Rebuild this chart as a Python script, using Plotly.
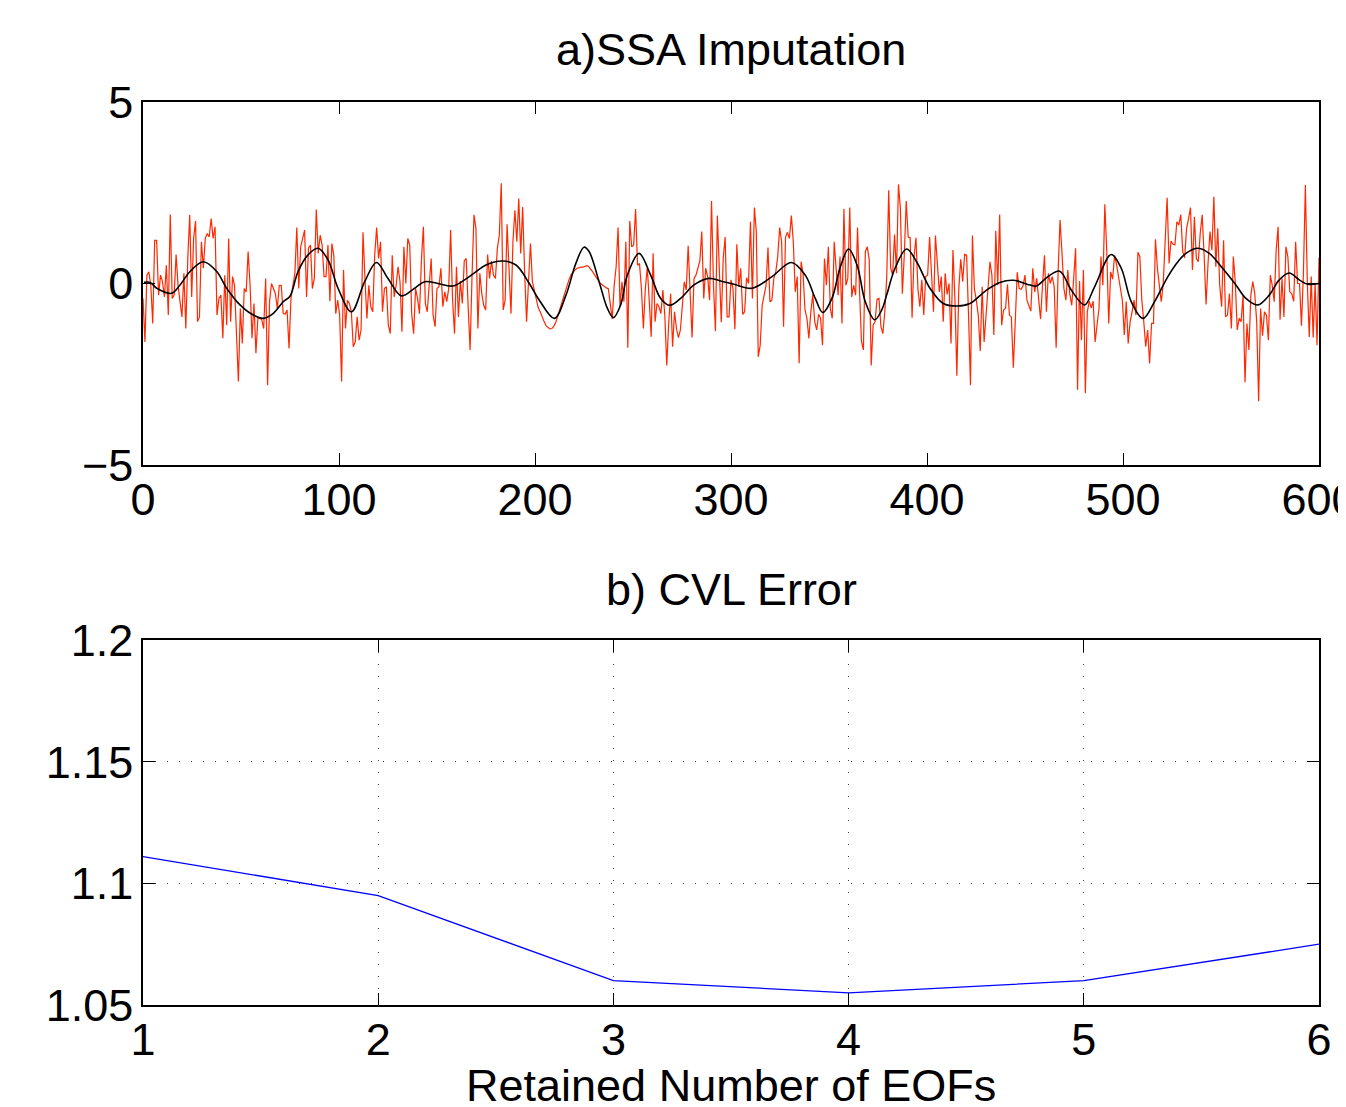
import numpy as np
import plotly.graph_objects as go

# ---------------- data: panel a) observed (red) series, read off the picture ----------------
red_seg1 = [-0.41,-1.61,0.23,0.32,-0.05,-1.10,1.19,1.19,-0.32,0.23, 0.05,-0.37,0.50,-0.87,1.90,-0.41,-0.32,0.80,-0.05,-0.50,
            -0.92,0.28,-1.24,0.69,1.89,-0.37,1.25,1.72,-1.05,-0.92, 1.15,0.42,1.25,1.38,1.28,1.79,1.24,1.56,-0.87,-0.41,
            -0.32,-1.51,0.23,-1.15,1.24,-1.05,0.19,-0.05,-1.42,-2.70, -0.69,-1.65,-0.14,-0.23,0.88,-0.05,-1.51,-0.55,-1.92,-0.96,
            -0.96,-1.00,-1.24,0.14,-2.80,-0.50,0.00,-0.14,-0.28,-0.69, -0.05,-0.05,-0.83,-0.85,-0.73,-1.79]
red_seg2 = [-0.41,-0.05,0.28,1.54,-0.14,1.01,1.28,1.47,-0.37,0.97, 1.06,-0.14,0.14,2.04,0.83,1.33,1.06,0.19,0.19,1.06,
            -0.49,1.10,0.78,-0.83,-0.46,-0.87,-2.70,0.37,-1.24,-0.46, -0.55,-0.78,-1.74,-1.61,-0.92,-1.56,-1.28,1.41,0.14,-0.96,
            -0.05,-0.64,-0.78,0.78,1.54,0.69,1.15,-0.78,-0.14,-0.09, -1.15,-1.38,0.78,-0.37,-0.05,0.46,0.05,-1.33,1.01,0.00,
            1.24,1.06,-0.83,-1.38,-0.14,-0.41,-0.83,0.65,1.56,-0.55, -0.78,-0.05,0.69,-0.87,-1.19]
red_seg3 = [-0.14,-0.09,0.42,-0.64,-0.23,-0.50,-0.14,1.47,-0.46,-1.38, 0.46,-0.92,0.07,-0.55,0.62,0.69,-0.64,-1.83,0.23,1.89,
            1.52,-1.24,0.28,-0.28,-0.60,-0.73,0.80,0.14,0.62,0.23, 0.14,0.97,1.33,2.76,-0.73,-0.46,1.63,0.42,-0.83,1.15,
            2.02,1.15,2.34,0.83,2.11,0.32,-1.05,0.05,1.10,0.05]
red_gap = [-0.18,-0.43,-0.67,-0.78,-0.94,-1.05,-1.16,-1.22,-1.25,-1.24, -1.18,-1.07,-0.92,-0.73,-0.55,-0.37,-0.16,0.00,0.14,0.25,
           0.32,0.38,0.42,0.44,0.45,0.45,0.47,0.49,0.46,0.40, 0.32,0.23,0.14,0.07,0.00,-0.04,-0.09,-0.12,-0.14]
red_seg4 = [-0.60,-0.98,-0.05,0.46,1.54,-0.64,0.05,-0.50,1.15,-1.77, 1.72,1.01,1.06,2.05,0.50,0.55,-0.14,-1.24,-0.14,0.44,
            -0.46,-1.47,0.83,-1.05,-0.55,-0.64,-0.83,-0.18,-0.87,-2.26, -1.10,-0.28,-1.74,-0.78,-1.24,-1.49,-1.28,-0.60,0.05,-0.18,
            1.04,-0.23,-1.49,0.14,0.23,0.42,0.62,1.43,-0.41,0.42, 0.19,-0.46,2.27,-0.05,-1.31,1.87,0.46,-1.07,0.69,1.28, -0.92]
red_seg5 = [-0.92,0.10,-0.14,-1.26,1.08,-0.09,0.42,-0.85,-0.78,0.16, 0.00,1.70,-0.41,2.09,1.43,-2.02,-1.70,-0.60,-0.28,-0.05,
            0.99,-0.50,-0.46,0.14,0.32,0.74,1.54,1.15,-1.19,1.28, 1.41,1.24,1.87,1.15,-0.23,0.19,-2.20,0.60,0.28,-0.73,
            -0.96,-1.51,-0.78,-0.30,-1.05,-1.28,-0.85,-0.96,-1.70,0.69, -0.05,1.01,-0.69,-0.96,1.15,0.37,-0.32,0.74,-1.10,2.05,
            -0.05,0.14,2.09,-0.37,-0.05,-0.32,1.54,-0.18,-1.59,-1.83, 0.88,1.01,0.65,-2.26,-1.15,-1.05,-0.43]
red_seg6 = [-0.41,-1.19,-1.38,-0.78,0.19,2.57,0.42,0.23,1.35,0.28, 2.73,2.07,-0.28,0.78,2.27,1.28,1.26,-0.94,0.74,1.26,
            -0.14,-0.64,0.10,-0.87,0.19,0.23,1.28,0.23,-0.78,1.32, 0.60,-0.23,0.19,-1.05,0.28,-0.30,0.00,-1.65,0.92,-0.41,
            -2.54,-0.14,0.67,0.05,0.80,0.78,-0.87,-2.80,1.32,-0.14, -0.46,-0.87,-1.86,-0.09,-1.61,-0.87,-0.32,0.60,0.23,-1.42,
            1.45,-0.05,1.90,-1.15,-0.73,-0.69,-0.02,-0.87,-0.92,-2.32, -1.05,0.31,-0.14,-0.16,-0.06,0.23,-0.46]
red_seg7 = [-0.60,-0.76,0.42,-0.23,0.14,-0.37,-0.98,-0.05,0.78,-0.78, 0.28,0.00,0.19,-0.09,-1.77,0.32,1.75,0.83,-0.14,-0.46,
            0.37,-0.28,-0.60,0.14,0.97,-2.93,0.07,-1.56,0.37,-3.02, -0.78,-0.49,-0.67,-0.49,-1.61,-1.15,-0.69,0.74,-0.05,2.18,
            0.88,-1.10,0.32,0.12,0.78,0.53,0.23,-0.05,-0.46,-1.42, -0.50,-1.65,-1.05,-0.78,-0.46,-0.87,0.86,0.74,-0.46,-1.05,
            -1.74,-1.28,-2.20,-1.10,-1.10,1.22,0.42,-0.05,-0.50,0.00, 1.10,2.36,0.55,1.17,1.08,1.06,1.70]
red_seg8 = [1.61,1.90,0.88,0.71,1.52,1.79,2.09,0.37,1.84,0.69, 0.60,1.38,1.89,0.78,-0.58,0.55,1.43,0.92,2.39,0.46,
            1.52,-0.05,-0.64,1.19,-0.92,-0.87,-0.28,-1.24,0.74,0.05, -1.28,-0.96,-1.05,-0.32,-2.72,-1.10,-1.83,-0.32,0.05,-0.28,
            -1.05,-3.24,-0.69,-1.44,-0.78,-0.87,-1.56,0.23,-0.05,-0.50, 0.92,1.56,-1.00,0.14,-0.92,1.01,0.74,-0.23,-0.28,-0.49,
            1.15,0.00,0.00,-1.16,0.28,2.71,0.03,-1.47,0.19,-1.49, 0.00,-1.70,0.71]

# ---------------- data: panel a) SSA reconstruction (black) ----------------
ssa_t = [0.5, 3.6, 7, 14.6, 18.9, 24, 30.8, 37.6, 42.7, 49.5, 56.3, 61.4, 66.5, 71.6, 75,
         79.1, 84.2, 89.3, 94.4, 99.5, 106.3, 113.1, 119.1, 125, 131.8, 138.6, 143.7, 150.5,
         158, 166.5, 175, 183.5, 190.3, 197.1, 202.2, 209.9, 215.8, 220.9, 225,
         227.6, 232.7, 236.9, 240, 243.7, 247.1, 253.1, 259, 264.1, 268.9, 274.3, 281.1, 288.8, 294.7, 301.5,
         310.7, 320.9, 330.8, 337.9, 343, 346.8, 351.5, 355.8, 360, 364.3, 368.5, 373.3, 377,
         379.4, 383.7, 389.6, 394.7, 401.5, 408.3, 415.1, 421.9, 430.4, 437.2, 444, 452.5,
         455.8, 461.7, 467.7, 473.6, 480.4, 485.5, 494, 499.1, 504.2, 510.2, 516.1, 522.9, 528,
         532.1, 538.1, 544, 550.8, 557.6, 562.7, 568.7, 574.6, 579.7, 584.8, 589.9, 594.2, 600]
ssa_v = [0.03, 0.03, -0.13, -0.27, -0.04, 0.33, 0.60, 0.33, -0.13, -0.59, -0.87, -0.96, -0.82, -0.50, -0.35,
         0.33, 0.79, 0.97, 0.65, -0.13, -0.78, 0.05, 0.58, 0.14, -0.34, -0.13, 0.05, 0.00,
         -0.07, 0.19, 0.51, 0.62, 0.51, 0.00, -0.46, -0.96, -0.32, 0.56, 1.00,
         0.88, 0.05, -0.68, -0.94, -0.59, 0.23, 0.83, 0.23, -0.41, -0.60, -0.41, -0.04, 0.14, 0.07, -0.02,
         -0.13, 0.19, 0.58, 0.23, -0.41, -0.80, -0.41, 0.46, 0.95, 0.51, -0.50, -1.00, -0.72,
         -0.32, 0.42, 0.95, 0.60, -0.13, -0.55, -0.62, -0.55, -0.18, 0.03, 0.09, -0.04,
         -0.07, 0.19, 0.34, -0.18, -0.59, -0.09, 0.80, 0.42, -0.50, -0.96, -0.50, 0.19, 0.60,
         0.83, 0.97, 0.83, 0.42, -0.04, -0.41, -0.59, -0.32, 0.10, 0.29, 0.10, -0.02, 0.00]

# ---------------- data: panel b) CVL error ----------------
n_eofs = [1, 2, 3, 4, 5, 6]
cvl_error = [1.111, 1.095, 1.060, 1.055, 1.060, 1.075]

top_xticks = [0, 100, 200, 300, 400, 500, 600]
top_yticks = [-5, 0, 5]
bot_yticks = [1.05, 1.1, 1.15, 1.2]
bot_yticklabels = ["1.05", "1.1", "1.15", "1.2"]

red = red_seg1 + red_seg2 + red_seg3 + red_gap + red_seg4 + red_seg5 + red_seg6 + red_seg7 + red_seg8
t_red = np.linspace(0, 600, len(red))

FONT = "Liberation Sans, Arial, Helvetica, sans-serif"
FS = 45

fig = go.Figure()
fig.add_trace(go.Scatter(x=t_red, y=red, mode="lines",
                         line=dict(color="rgb(255,40,0)", width=1.2),
                         xaxis="x", yaxis="y", showlegend=False))
fig.add_trace(go.Scatter(x=ssa_t, y=ssa_v, mode="lines",
                         line=dict(color="black", width=1.6, shape="spline", smoothing=1.0),
                         xaxis="x", yaxis="y", showlegend=False))
fig.add_trace(go.Scatter(x=n_eofs, y=cvl_error, mode="lines",
                         line=dict(color="rgb(0,0,255)", width=1.3),
                         xaxis="x2", yaxis="y2", showlegend=False))

axis_common = dict(showline=True, mirror="ticks", linecolor="black", linewidth=1.5,
                   ticks="inside", ticklen=12, tickwidth=1, tickcolor="black",
                   zeroline=False, ticklabeloverflow="allow", automargin=False,
                   tickfont=dict(family=FONT, size=FS, color="black"))

# the page body adds an 8px offset, so the figure is 8px smaller with margins shifted
fig.update_layout(
    width=1338, height=1099,
    margin=dict(l=135, r=27, t=94, b=102),
    paper_bgcolor="white", plot_bgcolor="white",
    font=dict(family=FONT, size=FS, color="black"),
    xaxis=dict(domain=[0, 1], anchor="y", range=[0, 600], tickmode="array", tickvals=top_xticks,
               showgrid=False, ticklabelstandoff=-6, **axis_common),
    yaxis=dict(domain=[0.598, 1.0], anchor="x", range=[-5, 5], tickmode="array", tickvals=top_yticks,
               showgrid=False, ticklabelstandoff=-1, **axis_common),
    xaxis2=dict(domain=[0, 1], anchor="y2", range=[1, 6], tickmode="array", tickvals=n_eofs,
                showgrid=True, gridcolor="rgb(60,60,60)", gridwidth=1, griddash="1px,11px",
                ticklabelstandoff=-6, **axis_common),
    yaxis2=dict(domain=[0, 0.404], anchor="x2", range=[1.05, 1.2], tickmode="array",
                tickvals=bot_yticks, ticktext=bot_yticklabels,
                showgrid=True, gridcolor="rgb(60,60,60)", gridwidth=1, griddash="1px,11px",
                ticklabelstandoff=-1, **axis_common),
    annotations=[
        dict(text="a)SSA Imputation", xref="paper", yref="paper", x=0.5, y=1.0576,
             xanchor="center", yanchor="middle", showarrow=False, font=dict(family=FONT, size=FS)),
        dict(text="b) CVL Error", xref="paper", yref="paper", x=0.5, y=0.4596,
             xanchor="center", yanchor="middle", showarrow=False, font=dict(family=FONT, size=FS)),
        dict(text="Retained Number of EOFs", xref="paper", yref="paper", x=0.5, y=-0.0886,
             xanchor="center", yanchor="middle", showarrow=False, font=dict(family=FONT, size=FS)),
    ],
)

fig.write_html("out.html")
